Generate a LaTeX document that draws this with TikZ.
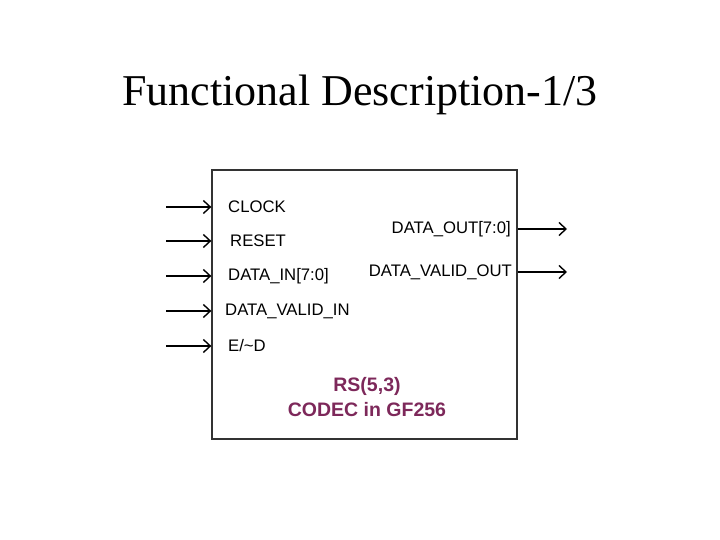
\documentclass[tikz,border=0pt]{standalone}
\usepackage{fontspec}
\setmainfont{Liberation Serif}
\setsansfont{Liberation Sans}
\usetikzlibrary{positioning, arrows.meta}
\definecolor{codecpurple}{RGB}{125,40,90}

\begin{document}
\begin{tikzpicture}[x=1pt, y=-1pt,
        pin/.style={font=\sffamily\fontsize{16.7}{17}\selectfont, inner sep=0pt},
        sig/.style={line width=1.4pt, -{Straight Barb[length=7pt, width=13pt, line width=1.4pt]}}]
            \useasboundingbox (0,0) rectangle (720,540);
            \node (title) at (360,95) {\fontsize{44}{46}\selectfont Functional Description-1/3};
            \node [draw=black!80, line width=1.3pt, minimum width=305pt, minimum height=269pt, inner sep=0pt] (box) at (364.5,304.5) {};
            % inputs
            \node [pin, anchor=west] (clk) at (228,207) {CLOCK};
            \node [pin, anchor=west] (rst) at (230,241) {RESET};
            \node [pin, anchor=west] (din) at (228,276) {DATA\_IN[7:0]};
            \node [pin, anchor=west] (dvin) at (225,311) {DATA\_VALID\_IN};
            \node [pin, anchor=west] (encdec) at (228,346) {E/\textasciitilde D};
            \foreach \p in {clk, rst, din, dvin, encdec}{
                \coordinate (\p-src) at (166,0 |- \p);
                \draw [sig] (\p-src) -- (box.west |- \p);
            }
            % outputs
            \node [pin, anchor=east] (dout) at (511,229) {DATA\_OUT[7:0]};
            \node [pin, anchor=east] (dvout) at (512,272) {DATA\_VALID\_OUT};
            \foreach \p in {dout, dvout}{
                \coordinate (\p-dst) at (567,0 |- \p);
                \draw [sig] (box.east |- \p) -- (\p-dst);
            }
            \node [font=\sffamily\bfseries\fontsize{19.5}{25}\selectfont, text=codecpurple, align=center] (name) at (367,397) {RS(5,3)\\CODEC in GF256};
        \end{tikzpicture}
\end{document}
